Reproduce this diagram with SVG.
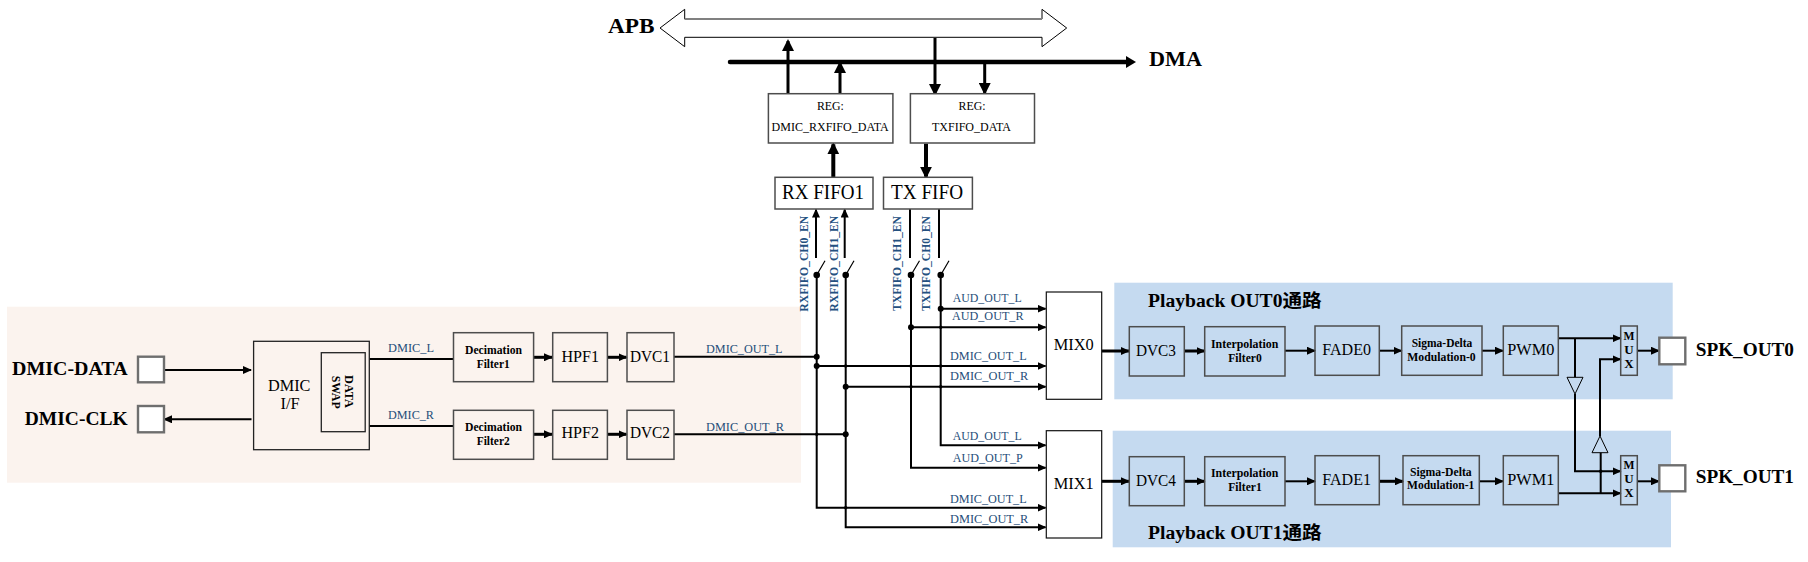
<svg xmlns="http://www.w3.org/2000/svg" width="1808" height="562" viewBox="0 0 1808 562">
<style>
text{font-family:"Liberation Serif","Noto Sans CJK SC",serif;fill:#000}
.b{font-weight:bold}
.box{fill:none;stroke:#4d4d4d;stroke-width:1.5}
.wh{fill:#fff;stroke:#4d4d4d;stroke-width:1.5}
.bk{fill:#fff;stroke:#111;stroke-width:1.2}
.bn{fill:none;stroke:#222;stroke-width:1.3}
.pad{fill:#fff;stroke:#6e6e6e;stroke-width:2.4}
.lab{fill:#1f4e79;font-size:13px}
.labb{fill:#24507f;font-size:13px;font-weight:bold}
.c{fill:none;stroke:#000;stroke-width:2}
.t{fill:none;stroke:#000;stroke-width:3}
.h{fill:none;stroke:#000;stroke-width:4}
.a{marker-end:url(#ar)}
.al{marker-end:url(#arl)}
.d{fill:#000}
</style>
<defs>
<marker id="ar" markerUnits="userSpaceOnUse" markerWidth="9" markerHeight="8" refX="8" refY="4" orient="auto"><path d="M0 0L9 4L0 8z"/></marker>
<marker id="arl" markerUnits="userSpaceOnUse" markerWidth="12" markerHeight="12" refX="10" refY="6" orient="auto"><path d="M0 0L12 6L0 12z"/></marker>
</defs>
<rect id="dmic-region" x="7" y="306.7" width="794" height="176" fill="#fbf3ee"/>
<rect id="out0-region" x="1114.3" y="282.7" width="558.4" height="116.6" fill="#c5daf0"/>
<rect id="out1-region" x="1112.7" y="430.7" width="558.3" height="116.6" fill="#c5daf0"/>

<g id="connectors">
<path class="c a" d="M164 370H251"/>
<path class="c a" d="M251.5 419.3H164"/>
<path class="c" d="M369.3 359H453.5M369.3 426H453.5"/>
<path class="t a" d="M533.6 357.3H552"/>
<path class="t a" d="M607.4 357.3H626.5"/>
<path class="t a" d="M533.6 434.3H552"/>
<path class="t a" d="M607.4 434.3H626.5"/>
<path class="c" d="M674 356.7H816.7M674 434.3H845.7"/>
<!-- top bus -->
<path d="M684.7 19V9.3L660 28L684.7 46.7V37.3H1042V46.7L1066.7 28L1042 9.3V19Z" fill="#fff" stroke="#000" stroke-width="1"/>
<path d="M684.7 19H1042" stroke="#808080" stroke-width="2" fill="none"/>
<path d="M730 62H1128" stroke="#000" stroke-width="4.5" stroke-linecap="round"/>
<path d="M1126 56L1136 62L1126 68z"/>
<path class="t al" d="M788 96V41"/>
<path class="t al" d="M840 94V63"/>
<path class="t al" d="M935 38V94"/>
<path class="t al" d="M984.7 62V93"/>
<path class="h al" d="M833.3 177V144.3"/>
<path class="h al" d="M926 143.7V176.7"/>
<!-- FIFO lines -->
<path class="c a" d="M816 258V209.5"/>
<path class="c a" d="M844.7 258V209.5"/>
<path class="c" d="M910 209V258M939 209V258"/>
<path stroke="#000" stroke-width="1.2" fill="none" d="M816.7 275L825 260.7M845.7 275L854 260.7M911 275L919.5 260.7M940.7 275L949 260.7"/>
<!-- distribution -->
<path class="c a" d="M816.7 275V507.7H1045.5"/>
<path class="c a" d="M845.7 275V527.3H1045.5"/>
<path class="c a" d="M911 275V467.7H1045.5"/>
<path class="c a" d="M940.7 275V445.3H1045.5"/>
<path class="c a" d="M940.7 308.7H1045.5"/>
<path class="c a" d="M911 327.3H1045.5"/>
<path class="c a" d="M816.7 366H1045.5"/>
<path class="c a" d="M845.7 386.7H1045.5"/>
<g class="d">
<circle cx="816.7" cy="275" r="3.3"/><circle cx="845.7" cy="275" r="3.3"/><circle cx="911" cy="275" r="3.3"/><circle cx="940.7" cy="275" r="3.3"/>
<circle cx="940.7" cy="308.7" r="3"/><circle cx="911" cy="327.3" r="3"/><circle cx="816.7" cy="356.7" r="3"/><circle cx="816.7" cy="366" r="3"/><circle cx="845.7" cy="386.7" r="3"/><circle cx="845.7" cy="434.3" r="3"/>
<circle cx="940.7" cy="327.3" r="1.7"/><circle cx="845.7" cy="366" r="1.7"/><circle cx="911" cy="366" r="1.7"/><circle cx="940.7" cy="366" r="1.7"/><circle cx="911" cy="386.7" r="1.7"/><circle cx="940.7" cy="386.7" r="1.7"/><circle cx="816.7" cy="434.3" r="1.7"/><circle cx="845.7" cy="507.7" r="1.7"/>
<circle cx="1600.7" cy="471.3" r="1.7"/>
</g>
<!-- output chains -->
<path class="t a" d="M1101.7 351H1129"/>
<path class="t a" d="M1184.3 351H1204.5"/>
<path class="c a" d="M1285 350.7H1315"/>
<path class="c a" d="M1379.3 350.7H1401.5"/>
<path class="c a" d="M1482 350.7H1503"/>
<path class="c a" d="M1638 350.7H1659"/>
<path class="t a" d="M1101.7 481.3H1129"/>
<path class="t a" d="M1184.3 481.3H1204.5"/>
<path class="c a" d="M1285 481.3H1315"/>
<path class="t a" d="M1379.3 481.3H1403"/>
<path class="c a" d="M1479.3 481.3H1503"/>
<path class="c a" d="M1637.5 481.3H1659"/>
<path class="c a" d="M1558.3 338.3H1620.5"/>
<path class="c" d="M1575 338.3V377.3"/>
<path class="c a" d="M1575 394V471.3H1620.5"/>
<path class="c a" d="M1558.3 493.3H1620.5"/>
<path class="c" d="M1600.7 493.3V452.7"/>
<path class="c a" d="M1600 436V359.3H1620.5"/>
<path d="M1567 377.3H1583L1575 394Z" fill="none" stroke="#000" stroke-width="1"/>
<path d="M1592 452.7H1608L1600 436Z" fill="none" stroke="#000" stroke-width="1"/>
</g>

<g id="pad-dmic-data"><rect class="pad" x="138" y="356.7" width="26" height="25.6"/><text class="b" x="12" y="375" font-size="19.5" textLength="115.6" lengthAdjust="spacingAndGlyphs">DMIC-DATA</text></g>
<g id="pad-dmic-clk"><rect class="pad" x="138" y="406" width="26" height="26.3"/><text class="b" x="24.8" y="425" font-size="19.5" textLength="102.8" lengthAdjust="spacingAndGlyphs">DMIC-CLK</text></g>
<g id="dmic-if"><rect class="bn" x="253.6" y="341.3" width="115.7" height="108.4"/>
<text x="268" y="391" font-size="16" textLength="42.4" lengthAdjust="spacingAndGlyphs">DMIC</text><text x="280.5" y="408.7" font-size="16" textLength="19.1" lengthAdjust="spacingAndGlyphs">I/F</text></g>
<g id="data-swap"><rect class="bn" x="321.3" y="352.7" width="43.9" height="79"/>
<text class="b" transform="translate(345 375) rotate(90)" font-size="13" textLength="33" lengthAdjust="spacingAndGlyphs">DATA</text>
<text class="b" transform="translate(331.6 375.7) rotate(90)" font-size="13" textLength="33" lengthAdjust="spacingAndGlyphs">SWAP</text></g>
<text class="lab" x="388" y="351.7" textLength="46" lengthAdjust="spacingAndGlyphs">DMIC_L</text>
<text class="lab" x="388" y="419" textLength="46" lengthAdjust="spacingAndGlyphs">DMIC_R</text>
<text class="lab" x="706" y="353" textLength="76.5" lengthAdjust="spacingAndGlyphs">DMIC_OUT_L</text>
<text class="lab" x="706" y="431" textLength="78" lengthAdjust="spacingAndGlyphs">DMIC_OUT_R</text>

<g id="dec1"><rect class="box" x="453.5" y="332.7" width="80.1" height="49"/><text class="b" x="465" y="354" font-size="13" textLength="57" lengthAdjust="spacingAndGlyphs">Decimation</text><text class="b" x="476.7" y="368" font-size="13" textLength="33" lengthAdjust="spacingAndGlyphs">Filter1</text></g>
<g id="dec2"><rect class="box" x="453.5" y="410.3" width="80.1" height="49"/><text class="b" x="465" y="430.7" font-size="13" textLength="57" lengthAdjust="spacingAndGlyphs">Decimation</text><text class="b" x="476.7" y="445" font-size="13" textLength="33" lengthAdjust="spacingAndGlyphs">Filter2</text></g>
<g id="hpf1"><rect class="box" x="552.7" y="332.7" width="54.7" height="49"/><text x="561.5" y="361.7" font-size="16" textLength="37.5" lengthAdjust="spacingAndGlyphs">HPF1</text></g>
<g id="hpf2"><rect class="box" x="552.7" y="410.3" width="54.7" height="49"/><text x="561.5" y="438.3" font-size="16" textLength="37.5" lengthAdjust="spacingAndGlyphs">HPF2</text></g>
<g id="dvc1"><rect class="box" x="627" y="332.7" width="47" height="49"/><text x="630" y="361.7" font-size="16" textLength="40" lengthAdjust="spacingAndGlyphs">DVC1</text></g>
<g id="dvc2"><rect class="box" x="627" y="410.3" width="47" height="49"/><text x="630" y="438.3" font-size="16" textLength="40" lengthAdjust="spacingAndGlyphs">DVC2</text></g>

<g id="reg-rx"><rect class="wh" x="768.4" y="93.7" width="124.5" height="49.3"/><text x="830.4" y="110" font-size="13.5" text-anchor="middle" textLength="27" lengthAdjust="spacingAndGlyphs">REG:</text><text x="771.6" y="131" font-size="13.5" textLength="117.2" lengthAdjust="spacingAndGlyphs">DMIC_RXFIFO_DATA</text></g>
<g id="reg-tx"><rect class="wh" x="910.4" y="93.7" width="124.1" height="49.3"/><text x="972" y="110" font-size="13.5" text-anchor="middle" textLength="27" lengthAdjust="spacingAndGlyphs">REG:</text><text x="932" y="131" font-size="13.5" textLength="79" lengthAdjust="spacingAndGlyphs">TXFIFO_DATA</text></g>
<g id="rx-fifo"><rect class="wh" x="775" y="177.3" width="98" height="31.7"/><text x="782" y="199" font-size="20" textLength="82" lengthAdjust="spacingAndGlyphs">RX FIFO1</text></g>
<g id="tx-fifo"><rect class="wh" x="883.5" y="177.3" width="88.9" height="31.7"/><text x="891" y="199" font-size="20" textLength="72" lengthAdjust="spacingAndGlyphs">TX FIFO</text></g>
<text class="b" x="608" y="33.3" font-size="21" textLength="46.5" lengthAdjust="spacingAndGlyphs">APB</text>
<text class="b" x="1149" y="66" font-size="21" textLength="53" lengthAdjust="spacingAndGlyphs">DMA</text>

<text class="labb" transform="translate(808 311.7) rotate(-90)" textLength="96" lengthAdjust="spacingAndGlyphs">RXFIFO_CH0_EN</text>
<text class="labb" transform="translate(838 311.7) rotate(-90)" textLength="96" lengthAdjust="spacingAndGlyphs">RXFIFO_CH1_EN</text>
<text class="labb" transform="translate(901 311) rotate(-90)" textLength="95" lengthAdjust="spacingAndGlyphs">TXFIFO_CH1_EN</text>
<text class="labb" transform="translate(930 311) rotate(-90)" textLength="95" lengthAdjust="spacingAndGlyphs">TXFIFO_CH0_EN</text>

<text class="lab" x="952.7" y="301.7" textLength="69" lengthAdjust="spacingAndGlyphs">AUD_OUT_L</text>
<text class="lab" x="952" y="320" textLength="71.5" lengthAdjust="spacingAndGlyphs">AUD_OUT_R</text>
<text class="lab" x="950" y="360" textLength="76.7" lengthAdjust="spacingAndGlyphs">DMIC_OUT_L</text>
<text class="lab" x="950" y="380" textLength="78.3" lengthAdjust="spacingAndGlyphs">DMIC_OUT_R</text>
<text class="lab" x="952.7" y="440" textLength="69" lengthAdjust="spacingAndGlyphs">AUD_OUT_L</text>
<text class="lab" x="952.7" y="462" textLength="70" lengthAdjust="spacingAndGlyphs">AUD_OUT_P</text>
<text class="lab" x="950" y="503.3" textLength="76.7" lengthAdjust="spacingAndGlyphs">DMIC_OUT_L</text>
<text class="lab" x="950" y="522.7" textLength="78.3" lengthAdjust="spacingAndGlyphs">DMIC_OUT_R</text>

<g id="mix0"><rect class="bk" x="1046.3" y="292" width="55.4" height="107.3"/><text x="1073.7" y="350" font-size="16" text-anchor="middle" textLength="40" lengthAdjust="spacingAndGlyphs">MIX0</text></g>
<g id="mix1"><rect class="bk" x="1046.3" y="430.7" width="55.4" height="107.3"/><text x="1073.7" y="489" font-size="16" text-anchor="middle" textLength="40" lengthAdjust="spacingAndGlyphs">MIX1</text></g>

<text class="b" x="1148" y="306.7" font-size="18.5" textLength="173.7" lengthAdjust="spacingAndGlyphs">Playback OUT0通路</text>
<text class="b" x="1148" y="538.7" font-size="18.5" textLength="173.7" lengthAdjust="spacingAndGlyphs">Playback OUT1通路</text>

<g id="dvc3"><rect class="box" x="1129.3" y="326.7" width="55" height="49.3"/><text x="1136" y="356" font-size="16" textLength="40" lengthAdjust="spacingAndGlyphs">DVC3</text></g>
<g id="dvc4"><rect class="box" x="1129.3" y="456.7" width="55" height="49"/><text x="1136" y="486" font-size="16" textLength="40" lengthAdjust="spacingAndGlyphs">DVC4</text></g>
<g id="interp0"><rect class="box" x="1204.7" y="326.7" width="80.3" height="49.3"/><text class="b" x="1211" y="347.7" font-size="13" textLength="67.3" lengthAdjust="spacingAndGlyphs">Interpolation</text><text class="b" x="1228.3" y="361.7" font-size="13" textLength="33.4" lengthAdjust="spacingAndGlyphs">Filter0</text></g>
<g id="interp1"><rect class="box" x="1204.7" y="456.7" width="80.3" height="49"/><text class="b" x="1211" y="476.7" font-size="13" textLength="67.3" lengthAdjust="spacingAndGlyphs">Interpolation</text><text class="b" x="1228.3" y="490.7" font-size="13" textLength="33.4" lengthAdjust="spacingAndGlyphs">Filter1</text></g>
<g id="fade0"><rect class="box" x="1315" y="326" width="64.3" height="49.3"/><text x="1322.3" y="355" font-size="16" textLength="48.7" lengthAdjust="spacingAndGlyphs">FADE0</text></g>
<g id="fade1"><rect class="box" x="1315" y="455.7" width="64.3" height="49"/><text x="1322.3" y="485" font-size="16" textLength="48.7" lengthAdjust="spacingAndGlyphs">FADE1</text></g>
<g id="sdm0"><rect class="box" x="1401.7" y="326" width="80.3" height="49.3"/><text class="b" x="1411.7" y="346.7" font-size="13" textLength="60.6" lengthAdjust="spacingAndGlyphs">Sigma-Delta</text><text class="b" x="1407.3" y="360.7" font-size="13" textLength="68.4" lengthAdjust="spacingAndGlyphs">Modulation-0</text></g>
<g id="sdm1"><rect class="box" x="1403" y="455.7" width="76.3" height="49"/><text class="b" x="1410" y="476" font-size="13" textLength="61.7" lengthAdjust="spacingAndGlyphs">Sigma-Delta</text><text class="b" x="1407" y="489.3" font-size="13" textLength="67.3" lengthAdjust="spacingAndGlyphs">Modulation-1</text></g>
<g id="pwm0"><rect class="box" x="1503.3" y="326" width="55" height="49.3"/><text x="1507.3" y="355" font-size="16" textLength="47" lengthAdjust="spacingAndGlyphs">PWM0</text></g>
<g id="pwm1"><rect class="box" x="1503.3" y="455.7" width="55" height="49"/><text x="1507.3" y="485" font-size="16" textLength="47" lengthAdjust="spacingAndGlyphs">PWM1</text></g>
<g id="mux0"><rect class="box" x="1620.7" y="326" width="16.6" height="49.3"/><text class="b" x="1629" y="340" font-size="13" text-anchor="middle" textLength="11" lengthAdjust="spacingAndGlyphs">M</text><text class="b" x="1629" y="354" font-size="13" text-anchor="middle">U</text><text class="b" x="1629" y="367.7" font-size="13" text-anchor="middle">X</text></g>
<g id="mux1"><rect class="box" x="1620.7" y="455.7" width="16.6" height="49"/><text class="b" x="1629" y="468.7" font-size="13" text-anchor="middle" textLength="11" lengthAdjust="spacingAndGlyphs">M</text><text class="b" x="1629" y="482.7" font-size="13" text-anchor="middle">U</text><text class="b" x="1629" y="496.7" font-size="13" text-anchor="middle">X</text></g>
<g id="pad-spk0"><rect class="pad" x="1659.3" y="337.7" width="26" height="26.6"/><text class="b" x="1695.7" y="356" font-size="18" textLength="98.3" lengthAdjust="spacingAndGlyphs">SPK_OUT0</text></g>
<g id="pad-spk1"><rect class="pad" x="1659.3" y="465.3" width="26" height="26"/><text class="b" x="1695.7" y="483.3" font-size="18" textLength="98.3" lengthAdjust="spacingAndGlyphs">SPK_OUT1</text></g>
</svg>
